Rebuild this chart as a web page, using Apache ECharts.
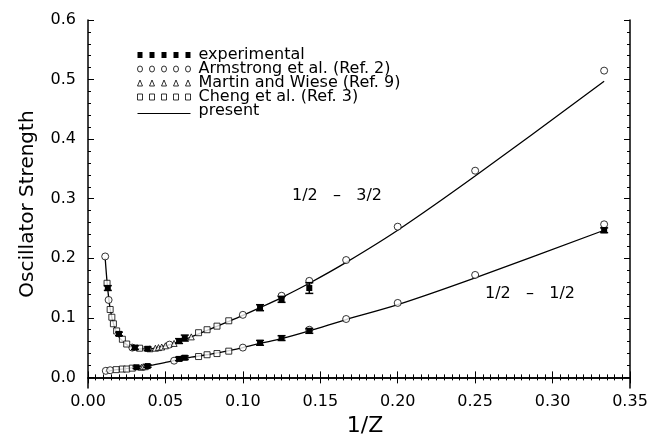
<!DOCTYPE html>
<html>
<head>
    <meta charset="utf-8">
    <title>Oscillator Strength vs 1/Z</title>
    <script src="https://cdn.jsdelivr.net/npm/echarts@6/dist/echarts.min.js"></script>
    <style>
        html, body { margin: 0; padding: 0; background: #fff; }
    </style>
</head>
<body>
    <div id="chart" style="width: 653px; height: 442px;"></div>
    <script>
        // values, [1/Z, f] ; experimental has [1/Z, f, error]
        var upperExp = [[0.0128, 0.150, 0.004], [0.0200, 0.073, 0.003], [0.0303, 0.050, 0.003], [0.0385, 0.048, 0.003],
            [0.0588, 0.061, 0.004], [0.0625, 0.066, 0.005], [0.1111, 0.117, 0.005], [0.125, 0.131, 0.005], [0.1429, 0.150, 0.009]];
        var lowerExp = [[0.0313, 0.017, 0.002], [0.0385, 0.019, 0.002], [0.0588, 0.031, 0.003], [0.0625, 0.033, 0.003],
            [0.1111, 0.058, 0.004], [0.125, 0.066, 0.004], [0.1429, 0.078, 0.004], [0.3333, 0.247, 0.004]];

        var upperArmstrong = [[0.0111, 0.203], [0.0133, 0.130], [0.0286, 0.050], [0.0526, 0.055], [0.1, 0.105],
            [0.125, 0.137], [0.1429, 0.162], [0.1667, 0.197], [0.2, 0.253], [0.25, 0.347], [0.3333, 0.515]];
        var lowerArmstrong = [[0.0115, 0.011], [0.0143, 0.012], [0.0556, 0.028], [0.1, 0.050], [0.1429, 0.080],
            [0.1667, 0.098], [0.2, 0.125], [0.25, 0.172], [0.3333, 0.257]];

        var upperMartin = [[0.0400, 0.048], [0.0435, 0.049], [0.0455, 0.050], [0.0476, 0.051], [0.0500, 0.053],
            [0.0556, 0.057], [0.0667, 0.068]];
        var lowerMartin = [[0.0345, 0.017], [0.0357, 0.018], [0.0370, 0.018]];

        var upperCheng = [[0.0123, 0.158], [0.0143, 0.114], [0.0154, 0.101], [0.0164, 0.090], [0.0185, 0.078],
            [0.0222, 0.064], [0.0250, 0.056], [0.0333, 0.049], [0.0714, 0.075], [0.0769, 0.080], [0.0833, 0.086], [0.0909, 0.095]];
        var lowerCheng = [[0.0182, 0.013], [0.0222, 0.014], [0.0250, 0.014], [0.0286, 0.0155], [0.0714, 0.035],
            [0.0769, 0.038], [0.0833, 0.040], [0.0909, 0.044]];

        var upperPresent = [[0.0111, 0.200], [0.0125, 0.155], [0.0143, 0.115], [0.0167, 0.088], [0.0200, 0.068],
            [0.0250, 0.055], [0.0286, 0.050], [0.0333, 0.048], [0.0400, 0.048], [0.0500, 0.053], [0.0588, 0.060],
            [0.0667, 0.068], [0.0769, 0.079], [0.0909, 0.094], [0.1, 0.104], [0.1111, 0.117], [0.125, 0.134],
            [0.1429, 0.158], [0.1667, 0.193], [0.2, 0.247], [0.25, 0.338], [0.3333, 0.497]];
        var lowerPresent = [[0.0111, 0.010], [0.0200, 0.0135], [0.0286, 0.016], [0.0400, 0.020], [0.0500, 0.025],
            [0.0588, 0.030], [0.0667, 0.034], [0.0769, 0.038], [0.0909, 0.045], [0.1, 0.050], [0.1111, 0.057],
            [0.125, 0.065], [0.1429, 0.078], [0.1667, 0.097], [0.2, 0.122], [0.25, 0.167], [0.3333, 0.247]];

        var yMajor = [0, 0.1, 0.2, 0.3, 0.4, 0.5, 0.6];
        var yMinor = [0.02, 0.04, 0.06, 0.08, 0.12, 0.14, 0.16, 0.18, 0.22, 0.24, 0.26, 0.28, 0.32, 0.34, 0.36, 0.38,
            0.42, 0.44, 0.46, 0.48, 0.52, 0.54, 0.56, 0.58];

        var names = ['experimental', 'Armstrong et al. (Ref. 2)', 'Martin and Wiese (Ref. 9)', 'Cheng et al. (Ref. 3)', 'present'];

        var FONT = 'DejaVu Sans';
        var chart = echarts.init(document.getElementById('chart'));

        // filled square with an I-shaped error bar
        function renderExp(params, api) {
            var p = api.coord([api.value(0), api.value(1)]);
            var lo = api.coord([api.value(0), api.value(1) - api.value(2)]);
            var hi = api.coord([api.value(0), api.value(1) + api.value(2)]);
            var s = 6, c = 4;
            var st = { stroke: '#000', lineWidth: 1.5 };
            return {
                type: 'group',
                children: [
                    { type: 'line', shape: { x1: p[0], y1: lo[1], x2: p[0], y2: hi[1] }, style: st },
                    { type: 'line', shape: { x1: p[0] - c, y1: lo[1], x2: p[0] + c, y2: lo[1] }, style: st },
                    { type: 'line', shape: { x1: p[0] - c, y1: hi[1], x2: p[0] + c, y2: hi[1] }, style: st },
                    { type: 'rect', shape: { x: p[0] - s / 2, y: p[1] - s / 2, width: s, height: s }, style: { fill: '#000' } }
                ]
            };
        }

        var openStyle = { color: '#fff', borderColor: '#000', borderWidth: 1 };

        function axisX(pos, showLabel) {
            return {
                type: 'value', position: pos, min: 0, max: 0.35, interval: 0.05,
                name: showLabel ? '1/Z' : '', nameLocation: 'middle', nameGap: 15,
                nameTextStyle: { fontFamily: FONT, fontSize: 22, color: '#000', padding: [0, 0, 0, 12] },
                axisLine: { show: true, lineStyle: { color: '#000', width: 1.5 } },
                axisTick: { show: true, inside: true, length: 6, lineStyle: { color: '#000', width: 1 } },
                minorTick: { show: true, splitNumber: 10, length: 3, lineStyle: { color: '#000', width: 1 } },
                axisLabel: { show: showLabel, margin: 6, fontFamily: FONT, fontSize: 16, color: '#000',
                    formatter: function (v) { return v.toFixed(2); } },
                splitLine: { show: false }, minorSplitLine: { show: false }
            };
        }

        function axisY(pos, major, showLabel) {
            var vals = major ? yMajor : yMinor;
            return {
                type: 'value', position: pos, min: -0.018, max: 0.6,
                name: showLabel ? 'Oscillator Strength' : '', nameLocation: 'middle', nameGap: 50,
                nameTextStyle: { fontFamily: FONT, fontSize: 20, color: '#000' },
                axisLine: { show: major, lineStyle: { color: '#000', width: 1.5 } },
                axisTick: { show: true, inside: true, length: major ? 6 : 3, customValues: vals,
                    lineStyle: { color: '#000', width: 1 } },
                axisLabel: { show: showLabel, margin: 12, customValues: vals, fontFamily: FONT, fontSize: 16, color: '#000',
                    formatter: function (v) { return v.toFixed(1); } },
                splitLine: { show: false }
            };
        }

        function pts(name, data, symbol, size) {
            return { name: name, type: 'scatter', data: data, symbol: symbol, symbolSize: size,
                itemStyle: openStyle, z: 3 };
        }

        var option = {
            animation: false,
            backgroundColor: '#fff',
            grid: { left: 88, right: 23, top: 20, bottom: 51 },
            xAxis: [axisX('bottom', true), axisX('top', false)],
            yAxis: [axisY('left', true, true), axisY('left', false, false), axisY('right', true, false), axisY('right', false, false)],
            legend: {
                left: 132, top: 42, orient: 'vertical', selectedMode: false,
                itemWidth: 53, itemHeight: 6, itemGap: -2, symbolKeepAspect: false,
                textStyle: { fontFamily: FONT, fontSize: 16, color: '#000', lineHeight: 14, padding: [0, 0, 0, 3] },
                data: [
                    { name: names[0], icon: 'path://M0,0H5V5H0Z M12,0H17V5H12Z M24,0H29V5H24Z M36,0H41V5H36Z M48,0H53V5H48Z',
                        itemStyle: { color: '#000', borderWidth: 0 } },
                    { name: names[1], icon: 'path://M0,2.5A2.5,2.5 0 1,1 5,2.5A2.5,2.5 0 1,1 0,2.5Z M12,2.5A2.5,2.5 0 1,1 17,2.5A2.5,2.5 0 1,1 12,2.5Z M24,2.5A2.5,2.5 0 1,1 29,2.5A2.5,2.5 0 1,1 24,2.5Z M36,2.5A2.5,2.5 0 1,1 41,2.5A2.5,2.5 0 1,1 36,2.5Z M48,2.5A2.5,2.5 0 1,1 53,2.5A2.5,2.5 0 1,1 48,2.5Z',
                        itemStyle: openStyle },
                    { name: names[2], icon: 'path://M0,5L2.5,0L5,5Z M12,5L14.5,0L17,5Z M24,5L26.5,0L29,5Z M36,5L38.5,0L41,5Z M48,5L50.5,0L53,5Z',
                        itemStyle: openStyle },
                    { name: names[3], icon: 'path://M0,0H5V5H0Z M12,0H17V5H12Z M24,0H29V5H24Z M36,0H41V5H36Z M48,0H53V5H48Z',
                        itemStyle: openStyle },
                    { name: names[4], icon: 'path://M0,0L53,0L53,0.01Z M0,8.5H53V10H0Z',
                        itemStyle: { color: '#000', borderWidth: 0 } }
                ]
            },
            graphic: [
                { type: 'text', left: 292, top: 188, style: { text: '1/2   –   3/2', fontFamily: FONT, fontSize: 16, fill: '#000' } },
                { type: 'text', left: 485, top: 286, style: { text: '1/2   –   1/2', fontFamily: FONT, fontSize: 16, fill: '#000' } }
            ],
            series: [
                { name: names[4], type: 'line', data: upperPresent, symbol: 'none', smooth: 0.3,
                    lineStyle: { color: '#000', width: 1.3 }, itemStyle: { color: '#000' }, z: 2 },
                { name: names[4], type: 'line', data: lowerPresent, symbol: 'none', smooth: 0.3,
                    lineStyle: { color: '#000', width: 1.3 }, itemStyle: { color: '#000' }, z: 2 },
                pts(names[1], upperArmstrong, 'circle', 7),
                pts(names[1], lowerArmstrong, 'circle', 7),
                pts(names[2], upperMartin, 'triangle', 6),
                pts(names[2], lowerMartin, 'triangle', 6),
                pts(names[3], upperCheng, 'rect', 6),
                pts(names[3], lowerCheng, 'rect', 6),
                { name: names[0], type: 'custom', data: upperExp, renderItem: renderExp, encode: { x: 0, y: 1 },
                    itemStyle: { color: '#000' }, z: 4 },
                { name: names[0], type: 'custom', data: lowerExp, renderItem: renderExp, encode: { x: 0, y: 1 },
                    itemStyle: { color: '#000' }, z: 4 }
            ]
        };
        chart.setOption(option);
    </script>
</body>
</html>
